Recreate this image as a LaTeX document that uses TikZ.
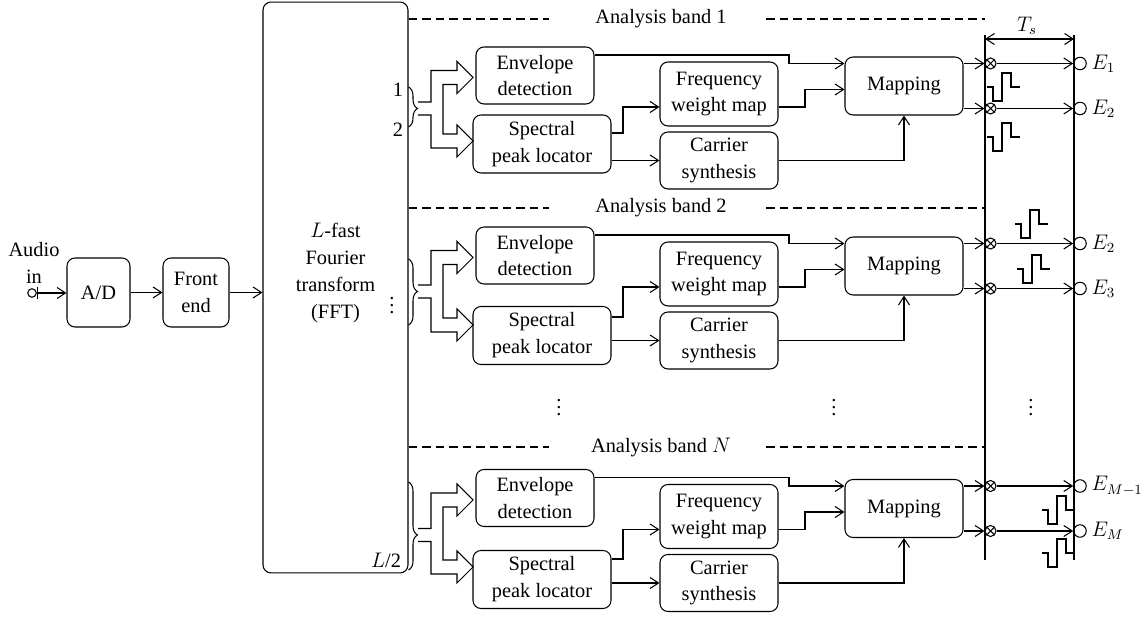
\documentclass[tikz,border=0pt]{standalone}
\usepackage{fontspec}
\setmainfont{Liberation Serif}
\usetikzlibrary{arrows.meta,decorations.pathreplacing}

\begin{document}
\begin{tikzpicture}[x=0.02cm,y=-0.02cm,line width=0.6pt,
  >={Straight Barb[length=1.7mm,width=2.2mm]},
  font=\fontsize{11.6}{15.3}\selectfont,
  block/.style={draw,rounded corners=1.6mm,align=center,inner sep=1pt},
  band line/.style={dash pattern=on 0.17cm off 0.1cm},
  mixer/.style={circle,draw,inner sep=0pt,minimum size=0.22cm,
    path picture={\draw (path picture bounding box.south west) -- (path picture bounding box.north east)
      (path picture bounding box.north west) -- (path picture bounding box.south east);}},
  port/.style={circle,draw,inner sep=0pt,minimum size=0.25cm},
  biphase/.pic={\draw (0,0) -- ++(6,0) -- ++(0,14) -- ++(9,0) -- ++(0,-28) -- ++(9,0) -- ++(0,14) -- ++(9,0);}]

  \useasboundingbox (0,0) rectangle (1146,617);

  % input chain
  \node[align=center] (audio) at (34,263) {Audio\\in};
  \node[circle,draw,inner sep=0pt,minimum size=0.17cm] (in) at (32,293) {};
  \node[block,minimum width=1.26cm,minimum height=1.38cm] (ad) at (98.5,292.5) {A/D};
  \node[block,minimum width=1.32cm,minimum height=1.38cm] (fe) at (196,292.5) {Front\\end};
  \node[block,minimum width=2.9cm,minimum height=11.42cm] (fft) at (335.5,287.5) {};
  \node[align=center] (ffttext) at (335.5,273) {$L$-fast\\Fourier\\transform\\(FFT)};

  \draw[{Bar[width=2.4mm]}->] (in) -- (ad.west |- in);
  \draw[->] (ad) -- (fe);
  \draw[->] (fe) -- (fft.west |- fe);

  \node (bin1) at (398,90) {1};
  \node (bin2) at (398,130) {2};
  \node (bindots) at (392,300) {$\vdots$};
  \node (binlast) at (386,560) {$L$/2};

  % analysis bands
  \foreach \n/\yo/\ys/\ya/\bt/\bb/\bc/\yd/\tl in
    {1/0/144/141/87/127/108.5/19/1, 2/180/335.5/325/259/325/291.5/208/2,
     3/422.5/579.5/567/482/570/535/447/$N$}{
    \pgfmathsetmacro\yu{\yo+77.5}
    \pgfmathsetmacro\asp{(\bc-\bt)/(\bb-\bt)}

    \node (t\n) at (661,\yd) {Analysis band \tl};
    \draw[band line] (fft.east |- 0,\yd) -- (549,\yd);
    \draw[band line] (766,\yd) -- (985,\yd);

    \node[block,minimum width=2.36cm,minimum height=1.14cm] (e\n) at (535,\yo+75.5) {Envelope\\detection};
    \node[block,minimum width=2.76cm,minimum height=1.16cm] (s\n) at (542,\ys) {Spectral\\peak locator};
    \node[block,minimum width=2.36cm,minimum height=1.28cm] (f\n) at (719,\yo+94) {Frequency\\weight map};
    \node[block,minimum width=2.36cm,minimum height=1.14cm] (c\n) at (719,\yo+160.5) {Carrier\\synthesis};
    \node[block,minimum width=2.36cm,minimum height=1.16cm] (m\n) at (904,\yo+86) {Mapping};

    \draw[decorate,decoration={brace,amplitude=0.18cm,aspect=\asp}] (fft.east |- 0,\bt) -- (fft.east |- 0,\bb);
    \draw (418,\bc-6.5) -- (431,\bc-6.5) -- (431,\yu-7) -- (457,\yu-7) -- (457,\yu-16) -- (473,\yu)
      -- (457,\yu+16) -- (457,\yu+7) -- (443,\yu+7) -- (443,\ya-7) -- (457,\ya-7) -- (457,\ya-16)
      -- (473,\ya) -- (457,\ya+16) -- (457,\ya+7) -- (431,\ya+7) -- (431,\bc+6.5) -- (418,\bc+6.5);

    \draw[->] (e\n.east |- 0,\yo+55) -- (789,\yo+55) |- (m\n.west |- 0,\yo+63.5);
    \draw[->] (s\n.east |- 0,\ya-8) -- (623,\ya-8) |- (f\n.west |- 0,\yo+107);
    \draw[->] (s\n.east |- c\n) -- (c\n);
    \draw[->] (f\n.east |- 0,\yo+107) -- (805,\yo+107) |- (m\n.west |- 0,\yo+89.5);
    \draw[->] (c\n.east) -| (m\n.south);

    \node[mixer] (xa\n) at (990.5,\yo+63.5) {};
    \node[mixer] (xb\n) at (990.5,\yo+108.5) {};
    \node[port] (pa\n) at (1080,\yo+63.5) {};
    \node[port] (pb\n) at (1080,\yo+108.5) {};
    \draw[->] (m\n.east |- xa\n) -- (xa\n);
    \draw[->] (m\n.east |- xb\n) -- (xb\n);
    \draw[->] (xa\n) -- (pa\n);
    \draw[->] (xb\n) -- (pb\n);
  }

  % outputs
  \node[anchor=west,inner sep=2.5pt] (ea1) at (pa1.east) {$E_1$};
  \node[anchor=west,inner sep=2.5pt] (eb1) at (pb1.east) {$E_2$};
  \node[anchor=west,inner sep=2.5pt] (ea2) at (pa2.east) {$E_2$};
  \node[anchor=west,inner sep=2.5pt] (eb2) at (pb2.east) {$E_3$};
  \node[anchor=west,inner sep=2.5pt] (ea3) at (pa3.east) {$E_{M-1}$};
  \node[anchor=west,inner sep=2.5pt] (eb3) at (pb3.east) {$E_M$};

  % sampling rails
  \coordinate (railatop) at (985,35);
  \coordinate (railabot) at (985,560);
  \coordinate (railbtop) at (1074,35);
  \coordinate (railbbot) at (1074,560);
  \draw (railatop) -- (railabot);
  \draw (railbtop) -- (railbbot);
  \draw[<->] (985,39) -- (1074,39);
  \node (ts) at (1027,26) {$T_s$};

  \pic at (987,87) {biphase};
  \pic at (987,137) {biphase};
  \pic at (1015,224) {biphase};
  \pic at (1017,269) {biphase};
  \pic at (1042,510) {biphase};
  \pic at (1042,553) {biphase};

  \node (dots1) at (559,402) {$\vdots$};
  \node (dots2) at (834,402) {$\vdots$};
  \node (dots3) at (1031,402) {$\vdots$};
\end{tikzpicture}
\end{document}
